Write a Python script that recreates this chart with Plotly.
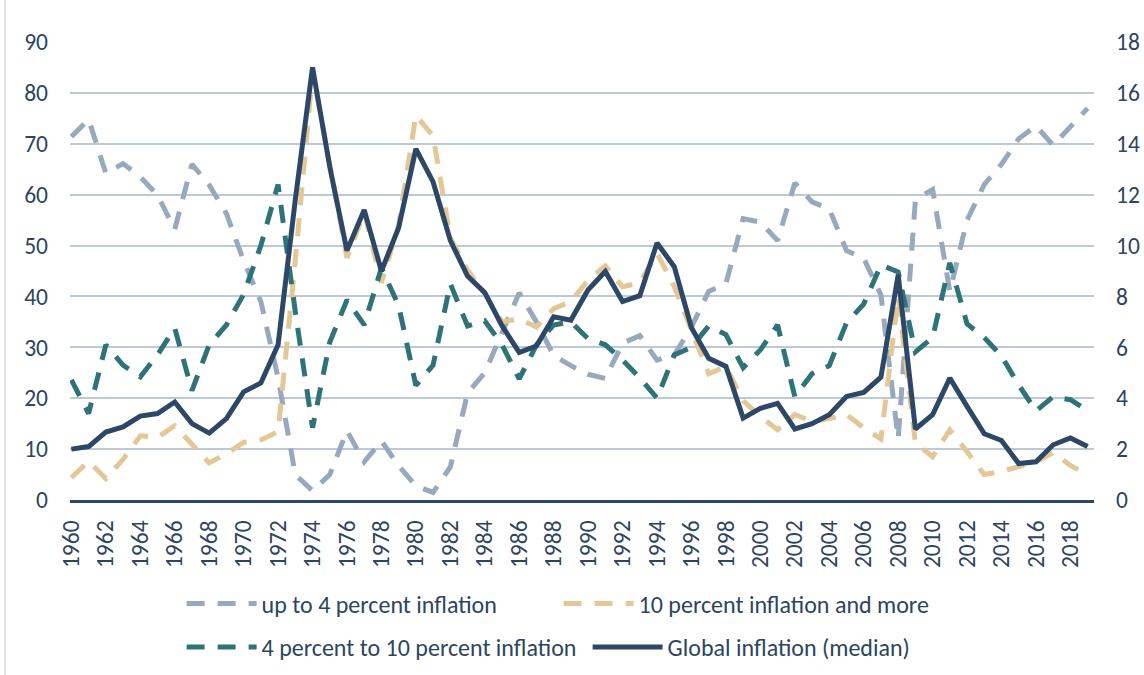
import plotly.graph_objects as go

# Share of countries by inflation band (left axis, percent of countries)
# and global median inflation (right axis, percent), 1960-2019
years = list(range(1960, 2020))

up_to_4 = [71.4, 74.8, 64.2, 66.1, 63.5, 59.9, 53.2, 66.0, 61.9, 56.3,
           47.0, 39.0, 24.0, 5.0, 1.8, 5.0, 13.6, 7.5, 11.6, 6.7,
           2.8, 1.5, 6.5, 21.0, 25.0, 33.0, 40.7, 35.0, 28.4, 26.4,
           24.7, 23.9, 30.8, 32.3, 27.5, 28.5, 34.0, 41.0, 42.5, 55.3,
           54.6, 51.0, 62.3, 58.6, 57.2, 49.0, 47.5, 40.3, 12.0, 59.0,
           61.0, 41.0, 55.0, 62.0, 66.0, 71.0, 73.5, 69.7, 73.5, 77.0]

four_to_ten = [23.6, 17.0, 30.5, 26.5, 24.2, 28.5, 33.8, 21.5, 30.5, 34.4,
               40.4, 50.0, 62.0, 37.0, 14.2, 31.0, 39.3, 34.4, 45.6, 38.2,
               22.5, 26.5, 42.5, 34.2, 35.2, 30.5, 23.8, 30.5, 34.4, 35.0,
               31.7, 30.5, 27.5, 24.0, 20.0, 28.5, 30.0, 34.2, 32.5, 26.0,
               29.5, 34.4, 20.3, 24.8, 26.4, 34.8, 38.5, 46.2, 44.8, 29.1,
               31.9, 46.6, 34.6, 31.9, 28.3, 22.6, 17.5, 20.3, 19.7, 17.6]

ten_and_more = [4.4, 7.6, 4.2, 8.0, 12.6, 12.3, 14.6, 10.9, 7.3, 9.1,
                11.3, 11.8, 13.4, 47.0, 84.0, 66.0, 47.6, 56.5, 42.7, 54.0,
                75.6, 71.5, 51.5, 45.2, 40.5, 35.0, 35.6, 34.0, 37.6, 39.0,
                43.2, 46.0, 41.9, 42.7, 48.5, 42.0, 33.4, 24.8, 26.2, 19.5,
                16.4, 13.8, 16.8, 15.4, 16.0, 16.8, 14.2, 12.0, 40.0, 11.2,
                8.5, 13.8, 9.5, 5.0, 5.6, 6.6, 7.5, 9.3, 6.8, 5.0]

global_median = [2.0, 2.1, 2.67, 2.87, 3.3, 3.4, 3.85, 3.0, 2.63, 3.2,
                 4.25, 4.6, 6.1, 11.8, 17.0, 13.1, 9.8, 11.4, 9.0, 10.7,
                 13.8, 12.5, 10.2, 8.8, 8.15, 6.85, 5.8, 6.05, 7.2, 7.07,
                 8.26, 8.98, 7.8, 8.03, 10.1, 9.17, 6.77, 5.57, 5.25, 3.22,
                 3.6, 3.8, 2.79, 3.0, 3.35, 4.07, 4.23, 4.83, 8.85, 2.79,
                 3.35, 4.79, 3.68, 2.6, 2.34, 1.43, 1.5, 2.17, 2.44, 2.1]

left_ticks = list(range(0, 100, 10))
right_ticks = list(range(0, 20, 2))
year_ticks = list(range(1960, 2020, 2))

TEXT = "#2C4561"
GRAY = "#97AABD"
TAN = "#E4C797"
TEAL = "#2E7378"
NAVY = "#2D4866"
GRID = "#BCCAD8"
FONT = "Carlito, Calibri, Lato, sans-serif"
DASH = "18px,13px"
TICK_SIZE = 23.5

fig = go.Figure()

fig.add_trace(go.Scatter(
    x=years, y=up_to_4, name="up to 4 percent inflation", mode="lines",
    line=dict(color=GRAY, width=5, dash=DASH), legend="legend"))
fig.add_trace(go.Scatter(
    x=years, y=ten_and_more, name="10 percent inflation and more", mode="lines",
    line=dict(color=TAN, width=5, dash=DASH), legend="legend"))
fig.add_trace(go.Scatter(
    x=years, y=four_to_ten, name="4 percent to 10 percent inflation", mode="lines",
    line=dict(color=TEAL, width=5, dash=DASH), legend="legend2"))
fig.add_trace(go.Scatter(
    x=years, y=global_median, name="Global inflation (median)", mode="lines",
    line=dict(color=NAVY, width=5), yaxis="y2", legend="legend2"))

legend_common = dict(
    orientation="h", xanchor="left", yanchor="middle",
    font=dict(family=FONT, size=24, color=TEXT),
    bgcolor="rgba(0,0,0,0)", itemwidth=70, traceorder="normal",
)

fig.update_layout(
    width=1144, height=675,
    margin=dict(l=70, r=50, t=42, b=175, autoexpand=False),
    paper_bgcolor="white", plot_bgcolor="white",
    font=dict(family=FONT, color=TEXT),
    xaxis=dict(
        range=[1959.92, 2019.37], tickmode="array", tickvals=year_ticks,
        ticktext=[str(y) for y in year_ticks], tickangle=-90,
        tickfont=dict(family=FONT, size=TICK_SIZE, color=TEXT),
        showgrid=False, zeroline=False, showline=True, automargin=False,
        linecolor=NAVY, linewidth=3, ticks="", ticklabelstandoff=8,
    ),
    yaxis=dict(
        range=[0, 90], tickvals=left_ticks, automargin=False,
        tickfont=dict(family=FONT, size=TICK_SIZE, color=TEXT),
        showgrid=True, gridcolor=GRID, gridwidth=2,
        zeroline=False, showline=False, ticks="", ticklabelstandoff=21,
    ),
    yaxis2=dict(
        range=[0, 18], tickvals=right_ticks, overlaying="y", side="right",
        tickfont=dict(family=FONT, size=TICK_SIZE, color=TEXT),
        showgrid=False, zeroline=False, showline=False, ticks="",
        ticklabelstandoff=21, automargin=False,
    ),
    legend=dict(x=0.109, y=-0.227, entrywidth=292, **legend_common),
    legend2=dict(x=0.109, y=-0.322, entrywidth=321, **legend_common),
    shapes=[dict(type="line", xref="paper", yref="paper",
                 x0=-0.0635, x1=-0.0635, y0=-0.5, y1=1.2,
                 line=dict(color="#D9D9D9", width=1.5))],
)

fig.write_html("out.html")
